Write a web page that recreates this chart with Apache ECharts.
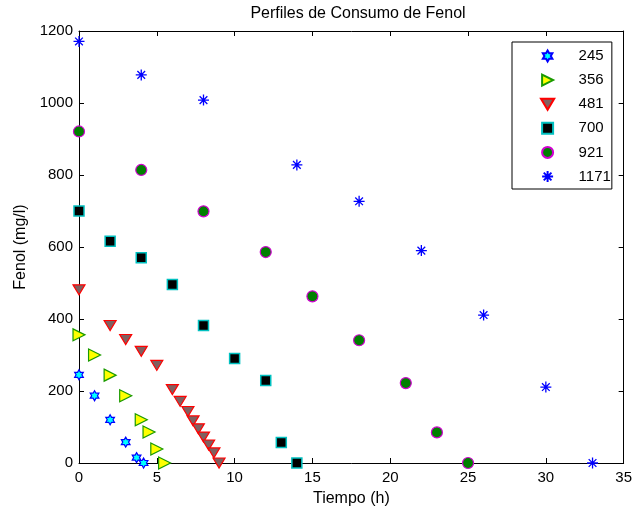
<!DOCTYPE html>
<html>
<head>
<meta charset="utf-8">
<script src="https://cdn.jsdelivr.net/npm/echarts@6/dist/echarts.min.js"></script>
<style>html,body{margin:0;padding:0;background:#fff}#c{width:635px;height:512px}</style>
</head>
<body>
<div id="c"></div>
<script>
const seriesNames = ['245', '356', '481', '700', '921', '1171'];
const t245 = [0, 1, 2, 3, 3.7, 4.15];
const f245 = [245, 187, 120, 58, 15, 0];
const t356 = [0, 1, 2, 3, 4, 4.5, 5, 5.5];
const f356 = [356, 300, 244, 187, 120, 86, 39, 0];
const t481 = [0, 2, 3, 4, 5, 6, 6.5, 7, 7.33, 7.67, 8, 8.33, 8.67, 9];
const f481 = [481, 382, 343, 310, 271, 204, 171, 143, 117, 95, 72, 50, 28, 0];
const t700 = [0, 2, 4, 6, 8, 10, 12, 13, 14];
const f700 = [700, 616, 570, 496, 382, 290, 229, 57, 0];
const t921 = [0, 4, 8, 12, 15, 18, 21, 23, 25];
const f921 = [921, 814, 699, 586, 463, 341, 222, 85, 0];
const t1171 = [0, 4, 8, 14, 18, 22, 26, 30, 33];
const f1171 = [1171, 1078, 1008, 828, 727, 590, 411, 211, 0];

const FONT = "'Liberation Sans', Arial, sans-serif";
const zip = (a, b) => a.map((v, i) => [v, b[i]]);

const hexagram = 'path://M0,-10L2.887,-5L8.66,-5L5.774,0L8.66,5L2.887,5L0,10L-2.887,5L-8.66,5L-5.774,0L-8.66,-5L-2.887,-5Z';
const triRight = 'path://M0,0L10,5L0,10Z';
const triDown = 'path://M0,0L12,0L6,10Z';
const square = 'path://M0,0L10,0L10,10L0,10Z';
const asterisk = 'path://M0,-10L0,10M-10,0L10,0M-7,-7L7,7M-7,7L7,-7';

const styles = [
  { symbol: hexagram, size: 10, fill: '#00ffff', edge: '#0000ff', bw: 1.2 },
  { symbol: triRight, size: 12, fill: '#ffff00', edge: '#1a9a00', bw: 1.2 },
  { symbol: triDown, size: 12, fill: '#806060', edge: '#ff0000', bw: 1.2 },
  { symbol: square, size: 10, fill: '#000000', edge: '#00c0c0', bw: 1.5 },
  { symbol: 'circle', size: 11, fill: '#008000', edge: '#d000d0', bw: 1.2 },
  { symbol: asterisk, size: 11, fill: 'rgba(0,0,0,0)', edge: '#0000ff', bw: 1.3 }
];
const datasets = [zip(t245, f245), zip(t356, f356), zip(t481, f481), zip(t700, f700), zip(t921, f921), zip(t1171, f1171)];

const series = seriesNames.map((n, i) => ({
  name: n,
  type: 'scatter',
  data: datasets[i],
  symbol: styles[i].symbol,
  symbolSize: styles[i].size,
  symbolKeepAspect: true,
  itemStyle: { color: styles[i].fill, borderColor: styles[i].edge, borderWidth: styles[i].bw, opacity: 1 },
  emphasis: { disabled: true },
  clip: false,
  xAxisIndex: 0, yAxisIndex: 0
}));

const axisCommon = {
  axisLine: { show: true, onZero: false, lineStyle: { color: '#000', width: 1 } },
  axisTick: { show: true, inside: true, length: 5, lineStyle: { color: '#000' } },
  splitLine: { show: false }
};

const chart = echarts.init(document.getElementById('c'), null, { renderer: 'canvas' });
chart.setOption({
  animation: false,
  backgroundColor: '#fff',
  title: {
    text: 'Perfiles de Consumo de Fenol',
    left: 353, textAlign: 'center', top: 1,
    textStyle: { fontFamily: FONT, fontSize: 16, fontWeight: 'normal', color: '#000' }
  },
  grid: { left: 79, right: 7, top: 31, bottom: 48, containLabel: false },
  legend: {
    orient: 'vertical',
    left: 512, top: 42,
    data: seriesNames,
    itemWidth: 52, itemHeight: 11, itemGap: 9.1,
    padding: [6.5, 1, 5, 28],
    borderColor: '#000', borderWidth: 1, backgroundColor: '#fff',
    textStyle: { fontFamily: FONT, fontSize: 15, color: '#000' },
    selectedMode: false
  },
  xAxis: [
    Object.assign({}, axisCommon, {
      type: 'value', min: 0, max: 35, interval: 5, position: 'bottom',
      name: 'Tiempo (h)', nameLocation: 'middle', nameGap: 28,
      nameTextStyle: { fontFamily: FONT, fontSize: 16, color: '#000' },
      axisLabel: { fontFamily: FONT, fontSize: 15, color: '#000', margin: 7, formatter: v => String(v) }
    }),
    Object.assign({}, axisCommon, {
      type: 'value', min: 0, max: 35, interval: 5, position: 'top',
      axisLabel: { show: false }
    })
  ],
  yAxis: [
    Object.assign({}, axisCommon, {
      type: 'value', min: 0, max: 1200, interval: 200, position: 'left',
      name: 'Fenol (mg/l)', nameLocation: 'middle', nameGap: 47,
      nameTextStyle: { fontFamily: FONT, fontSize: 16, color: '#000' },
      axisLabel: { fontFamily: FONT, fontSize: 15, color: '#000', margin: 6, formatter: v => String(v) }
    }),
    Object.assign({}, axisCommon, {
      type: 'value', min: 0, max: 1200, interval: 200, position: 'right',
      axisLabel: { show: false }
    })
  ],
  series: series
});
</script>
</body>
</html>
